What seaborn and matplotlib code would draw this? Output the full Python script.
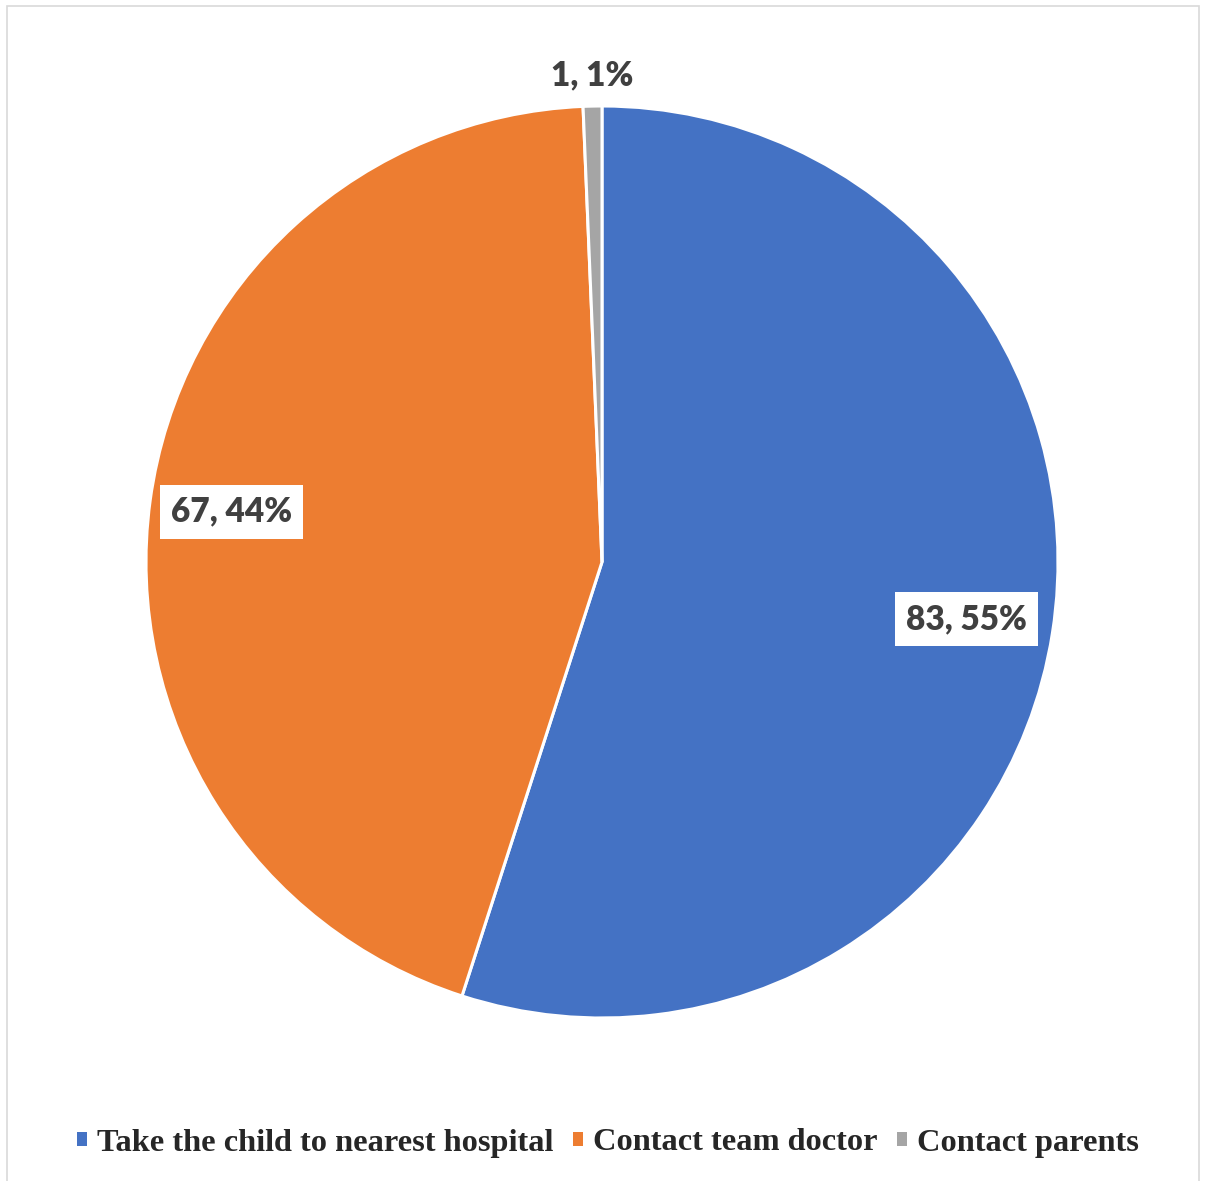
import matplotlib
matplotlib.use("Agg")
import matplotlib.pyplot as plt
import numpy as np
import seaborn as sns
from matplotlib.patches import Rectangle, Patch

categories = ["Take the child to nearest hospital", "Contact team doctor", "Contact parents"]
counts = [83, 67, 1]
percent_labels = ["55%", "44%", "1%"]
colors = ["#4472C4", "#ED7D31", "#A5A5A5"]

sns.set_theme(style="white")
plt.rcParams["font.family"] = ["DejaVu Sans"]
palette = sns.color_palette(colors)

fig = plt.figure(figsize=(12.05, 11.81), dpi=100)
fig.patch.set_facecolor("white")

# thin chart-area frame
fig.add_artist(Rectangle((6.5 / 1205, -0.01), (1198.5 - 6.5) / 1205, 1 - 5.5 / 1181 + 0.01,
                         transform=fig.transFigure, fill=False, edgecolor="#D9D9D9", linewidth=1.2))

ax = fig.add_axes([(602 - 456) / 1205, 1 - 1018 / 1181, 912 / 1205, 912 / 1181])
wedges, _ = ax.pie(counts, colors=palette, startangle=90, counterclock=False, radius=1,
                   wedgeprops=dict(edgecolor="white", linewidth=2.2))
ax.set_xlim(-1, 1)
ax.set_ylim(-1, 1)
ax.set_aspect("equal")
ax.axis("off")

label_dist = [0.81, 0.82, 1.068]
for w, n, p, r in zip(wedges, counts, percent_labels, label_dist):
    mid = np.deg2rad((w.theta1 + w.theta2) / 2)
    x, y = r * np.cos(mid), r * np.sin(mid)
    box = dict(facecolor="white", edgecolor="none", pad=8) if r < 1 else None
    ax.text(x, y, f"{n}, {p}", ha="center", va="center", fontsize=24, fontweight="heavy",
            family="Lato", color="#404040", bbox=box)

handles = [Patch(facecolor=c, edgecolor="none") for c in palette]
fig.legend(handles, categories, loc="center", bbox_to_anchor=(608 / 1205, 1 - 1143 / 1181), ncol=3,
           frameon=False, handlelength=0.32, handleheight=0.32, handletextpad=0.3, columnspacing=0.6,
           prop=dict(family="Liberation Serif", weight="bold", size=23.3))

fig.savefig("out.png", dpi=100, facecolor="white")
